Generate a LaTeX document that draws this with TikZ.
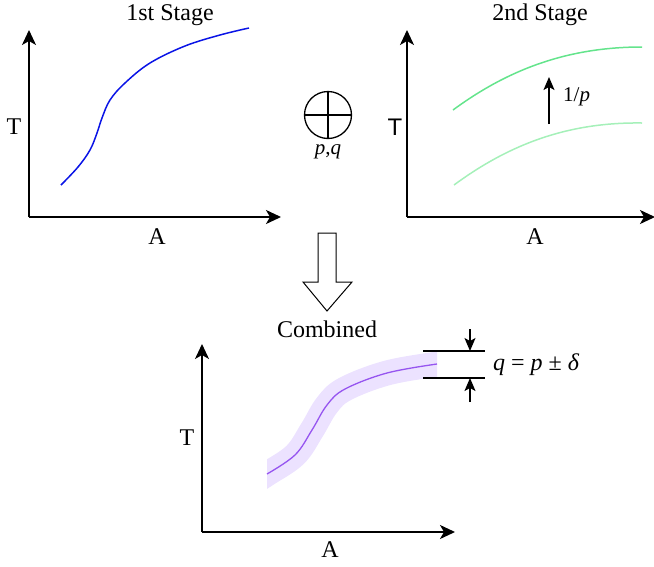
\documentclass[tikz,border=0pt]{standalone}
\usepackage{fontspec}
\setmainfont{Liberation Serif}
\newfontfamily\labelsans{Liberation Sans}
\usetikzlibrary{arrows.meta, positioning, calc}

\definecolor{stageblue}{RGB}{10,20,230}
\definecolor{greenhi}{RGB}{100,228,140}
\definecolor{greenlo}{RGB}{165,240,185}
\definecolor{combline}{RGB}{150,85,240}
\definecolor{combband}{RGB}{236,226,255}

\begin{document}
\begin{tikzpicture}[
  x=1pt, y=-1pt,
  >={Stealth[length=15pt, width=14pt, inset=4pt]},
  axis/.style={->, line width=1.8pt},
  lbl/.style={font=\fontsize{24}{28}\selectfont, inner sep=0pt},
  small/.style={font=\fontsize{21}{24}\selectfont, inner sep=0pt},
  dimline/.style={line width=1.3pt},
  dimarrow/.style={->, line width=1.3pt, >={Stealth[length=13pt, width=11pt, inset=3pt]}}
  ]
  \useasboundingbox (0,0) rectangle (654,566);

  % 1st stage
  \coordinate (O1) at (29,217);
  \coordinate (Y1) at (29,30);
  \coordinate (X1) at (281,217);
  \draw[axis] (O1) -- (Y1);
  \draw[axis] (O1) -- (X1);
  \node[lbl] (T1) at (14,127) {T};
  \node[lbl] (A1) at (157,237) {A};
  \node[lbl] (title1) at (170,15) {1st Stage};
  \draw[stageblue, line width=1.5pt] plot[smooth, tension=0.6] coordinates
    {(61,185) (78,167) (90,150) (97,133) (102,118) (110,100) (125,83) (150,63) (185,46) (220,35) (249,28)};

  % 2nd stage
  \coordinate (O2) at (407,217);
  \coordinate (Y2) at (407,30);
  \coordinate (X2) at (655,217);
  \draw[axis] (O2) -- (Y2);
  \draw[axis] (O2) -- (X2);
  \node[lbl, font=\labelsans\fontsize{24}{28}\selectfont] (T2) at (395,127) {T};
  \node[lbl] (A2) at (535,237) {A};
  \node[lbl] (title2) at (540,15) {2nd Stage};
  \draw[greenhi, line width=1.5pt] (453,110) .. controls (510,68) and (570,47) .. (642,47);
  \draw[greenlo, line width=1.5pt] (454,185) .. controls (511,143) and (570,122) .. (642,123);
  \coordinate (s0) at (549,124);
  \coordinate (s1) at (549,77);
  \draw[dimarrow] (s0) -- (s1);
  \node[small, anchor=west] (shift) at (563,97) {1/\textit{p}};

  % combination
  \node[circle, draw, line width=1.3pt, minimum size=47pt, inner sep=0pt] (plus) at (328,115) {};
  \draw[line width=1.3pt] (plus.north) -- (plus.south);
  \draw[line width=1.3pt] (plus.west) -- (plus.east);
  \node[small, below=5pt of plus] (pq) {\textit{p},\textit{q}};

  \draw[line width=1pt, line join=miter] (318,233) -- (336,233) -- (336,282) -- (352,282)
    -- (327,311) -- (303,282) -- (318,282) -- cycle;
  \node[lbl] (comb) at (327,329) {Combined};

  % combined
  \coordinate (O3) at (202,532);
  \coordinate (Y3) at (202,344);
  \coordinate (X3) at (455,532);
  \begin{scope}
    \clip (267,300) rectangle (437,520);
    \draw[combband, line width=25pt] plot[smooth, tension=0.6] coordinates
      {(250,485) (267,474) (295,455) (312,430) (327,405) (345,389) (387,373) (437,364) (455,361)};
  \end{scope}
  \draw[combline, line width=1.3pt] plot[smooth, tension=0.6] coordinates
    {(267,474) (295,455) (312,430) (327,405) (345,389) (387,373) (437,364)};
  \draw[axis] (O3) -- (Y3);
  \draw[axis] (O3) -- (X3);
  \node[lbl] (T3) at (187,438) {T};
  \node[lbl] (A3) at (330,550) {A};

  % tolerance marker
  \coordinate (b0) at (423,351);
  \coordinate (b1) at (485,351);
  \coordinate (c0) at (423,378);
  \coordinate (c1) at (485,378);
  \draw[dimline] (b0) -- (b1);
  \draw[dimline] (c0) -- (c1);
  \coordinate (d0) at (470,329);
  \coordinate (d1) at (470,351);
  \coordinate (e0) at (470,402);
  \coordinate (e1) at (470,378);
  \draw[dimarrow] (d0) -- (d1);
  \draw[dimarrow] (e0) -- (e1);
  \node[lbl, anchor=west] (tol) at (493,365) {\textit{q} = \textit{p} ± \textit{δ}};
\end{tikzpicture}
\end{document}
